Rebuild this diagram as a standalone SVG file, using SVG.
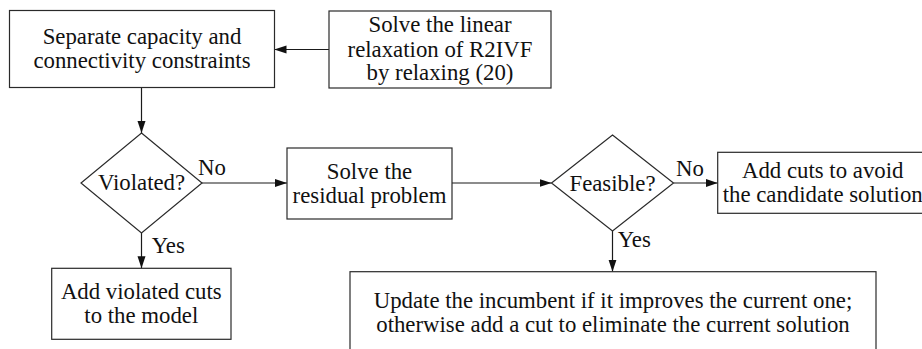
<svg xmlns="http://www.w3.org/2000/svg" width="922" height="349" viewBox="0 0 922 349">
  <style>
    .box { fill: #ffffff; stroke: #2a2a2a; stroke-width: 1.2; }
    .lbl { font-family: "Liberation Serif", "Times New Roman", serif; font-size: 22.8px; fill: #111; }
    .mid { text-anchor: middle; }
    .edge { fill: none; stroke: #1a1a1a; stroke-width: 1.2; }
  </style>
  <defs>
    <marker id="arrow" viewBox="0 0 12 10" refX="12" refY="5" markerWidth="12" markerHeight="10" markerUnits="userSpaceOnUse" orient="auto">
      <path d="M0,1 L12,5 L0,9 Z" fill="#111"/>
    </marker>
  </defs>
  <rect width="922" height="349" fill="#ffffff"/>

  <!-- flow connectors -->
  <g id="connectors">
    <line class="edge" x1="329" y1="49.5" x2="274.5" y2="49.5" marker-end="url(#arrow)"/>
    <line class="edge" x1="141.5" y1="87.5" x2="141.5" y2="133" marker-end="url(#arrow)"/>
    <line class="edge" x1="202" y1="183" x2="287" y2="183" marker-end="url(#arrow)"/>
    <line class="edge" x1="141.5" y1="233" x2="141.5" y2="268.3" marker-end="url(#arrow)"/>
    <line class="edge" x1="452" y1="183" x2="551.5" y2="183" marker-end="url(#arrow)"/>
    <line class="edge" x1="673.5" y1="183" x2="717.7" y2="183" marker-end="url(#arrow)"/>
    <line class="edge" x1="612.5" y1="231" x2="612.5" y2="271.7" marker-end="url(#arrow)"/>
    <text class="lbl" x="198" y="175">No</text>
    <text class="lbl" x="151.7" y="253">Yes</text>
    <text class="lbl" x="676" y="176">No</text>
    <text class="lbl" x="617.7" y="247">Yes</text>
  </g>

  <g id="separate">
    <rect class="box" x="9.5" y="10.5" width="265" height="77"/>
    <text class="lbl mid" x="142" y="44.3">Separate capacity and</text>
    <text class="lbl mid" x="142" y="68">connectivity constraints</text>
  </g>

  <g id="solve-relaxation">
    <rect class="box" x="329" y="11" width="222" height="77"/>
    <text class="lbl mid" x="440" y="31.7">Solve the linear</text>
    <text class="lbl mid" x="440" y="56.7">relaxation of R2IVF</text>
    <text class="lbl mid" x="440" y="80">by relaxing (20)</text>
  </g>

  <g id="violated">
    <polygon class="box" points="141.5,133 202,183 141.5,233 81,183"/>
    <text class="lbl mid" x="141.5" y="190">Violated?</text>
  </g>

  <g id="solve-residual">
    <rect class="box" x="287" y="148" width="165" height="71"/>
    <text class="lbl mid" x="369.5" y="179.3">Solve the</text>
    <text class="lbl mid" x="369.5" y="202.7">residual problem</text>
  </g>

  <g id="feasible">
    <polygon class="box" points="612.5,135 673.5,183 612.5,231 551.5,183"/>
    <text class="lbl mid" x="612.5" y="190.5">Feasible?</text>
  </g>

  <g id="add-cuts-candidate">
    <rect class="box" x="717.7" y="152.3" width="212" height="61"/>
    <text class="lbl mid" x="822.7" y="178">Add cuts to avoid</text>
    <text class="lbl mid" x="822.7" y="201.7">the candidate solution</text>
  </g>

  <g id="add-violated">
    <rect class="box" x="51.7" y="268.3" width="179.3" height="71"/>
    <text class="lbl mid" x="141.3" y="299">Add violated cuts</text>
    <text class="lbl mid" x="141.3" y="323">to the model</text>
  </g>

  <g id="update-incumbent">
    <rect class="box" x="350" y="271.7" width="526" height="90"/>
    <text class="lbl mid" x="613" y="308.3">Update the incumbent if it improves the current one;</text>
    <text class="lbl mid" x="613" y="331.7">otherwise add a cut to eliminate the current solution</text>
  </g>
</svg>
